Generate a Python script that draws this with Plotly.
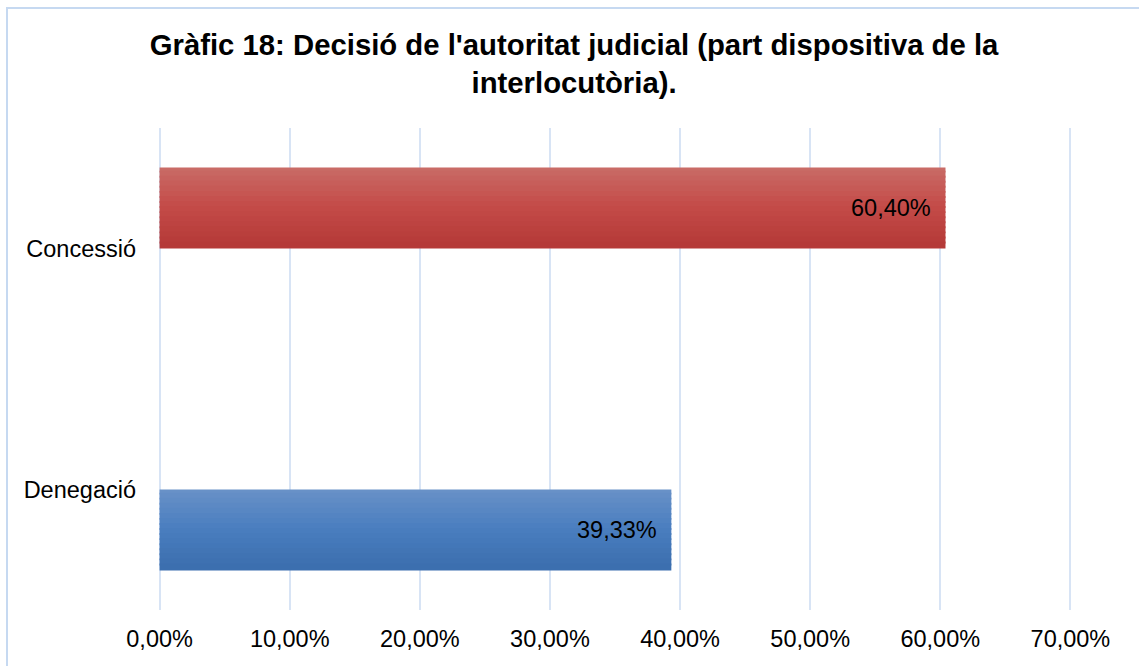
import plotly.graph_objects as go

# ---- data ----
categories = ["Concessió", "Denegació"]
values = [60.40, 39.33]
tick_values = [0, 10, 20, 30, 40, 50, 60, 70]
tick_labels = [("%.2f" % v).replace(".", ",") + "%" for v in tick_values]
title_lines = ["Gràfic 18: Decisió de l'autoritat judicial (part dispositiva de la",
               "interlocutòria)."]

# ---- styles ----
FONT = "Liberation Sans, Arial, sans-serif"
# gradient stops (top, middle, bottom) per category
grad = {
    "Concessió": ["#C96D68", "#C44B48", "#B43937"],
    "Denegació": ["#6A92C8", "#4A7EBF", "#3B6EAE"],
}
bar_w = 0.336
bar_offset = {"Concessió": 0.0, "Denegació": -bar_w}
N = 16


def hex2rgb(h):
    h = h.lstrip("#")
    return [int(h[i:i + 2], 16) for i in (0, 2, 4)]


def interp(stops, t):
    if t <= 0.5:
        a, b, u = stops[0], stops[1], t / 0.5
    else:
        a, b, u = stops[1], stops[2], (t - 0.5) / 0.5
    ca, cb = hex2rgb(a), hex2rgb(b)
    c = [round(ca[k] + (cb[k] - ca[k]) * u) for k in range(3)]
    return "rgb(%d,%d,%d)" % tuple(c)


fig = go.Figure()
for cat, val in zip(categories, values):
    off0 = bar_offset[cat]
    for i in range(N):
        t = (i + 0.5) / N
        # slice i counted from the top of the bar; later slices overlap upward
        off = off0 + bar_w * (1 - (i + 1) / N)
        extra = 0.008 if i > 0 else 0.0
        fig.add_trace(go.Bar(
            y=[cat], x=[val], orientation="h",
            offset=off, width=bar_w / N + extra,
            marker=dict(color=interp(grad[cat], t), line=dict(width=0)),
            showlegend=False, hoverinfo="skip",
        ))

# data labels
for cat, val in zip(categories, values):
    shift = 40.5 if bar_offset[cat] == 0 else -40.5
    fig.add_annotation(
        x=val, y=cat, xref="x", yref="y",
        text=("%.2f" % val).replace(".", ",") + "%",
        showarrow=False, xanchor="right", yanchor="middle",
        xshift=-12, yshift=shift,
        font=dict(family=FONT, size=23.5, color="#000000"),
    )

fig.update_layout(
    width=1139, height=666,
    barmode="overlay",
    paper_bgcolor="white", plot_bgcolor="white",
    margin=dict(l=157, r=66, t=128, b=56, pad=0),
    title=dict(
        text="<b>" + title_lines[0] + "<br>" + title_lines[1] + "</b>",
        x=0.504, xanchor="center", xref="container",
        y=0.918, yanchor="top", yref="container",
        font=dict(family=FONT, size=29.3, color="#000000"),
    ),
    font=dict(family=FONT, size=23.5, color="#000000"),
    shapes=[dict(
        type="rect", xref="paper", yref="paper",
        x0=(7 - 157) / 916, x1=1.2, y0=-0.3, y1=(610 - 8) / 482,
        line=dict(color="#C6D9F1", width=2), fillcolor="rgba(0,0,0,0)",
        layer="below",
    )],
)

fig.update_xaxes(
    range=[-0.2, 70.2], tickmode="array", tickvals=tick_values, ticktext=tick_labels,
    showgrid=True, gridcolor="#D8E4F5", gridwidth=2,
    zeroline=False, showline=False, ticks="", ticklabelstandoff=12,
    tickfont=dict(family=FONT, size=23.5, color="#000000"),
    fixedrange=True,
)
fig.update_yaxes(
    type="category", categoryorder="array", categoryarray=categories[::-1],
    showgrid=False, zeroline=False, showline=False, ticks="",
    ticklabelstandoff=20,
    tickfont=dict(family=FONT, size=23.5, color="#000000"),
    fixedrange=True,
)

fig.write_html(
    "out.html",
    config={"displayModeBar": False},
    post_script="document.body.style.margin='0';document.body.style.overflow='hidden';",
)
